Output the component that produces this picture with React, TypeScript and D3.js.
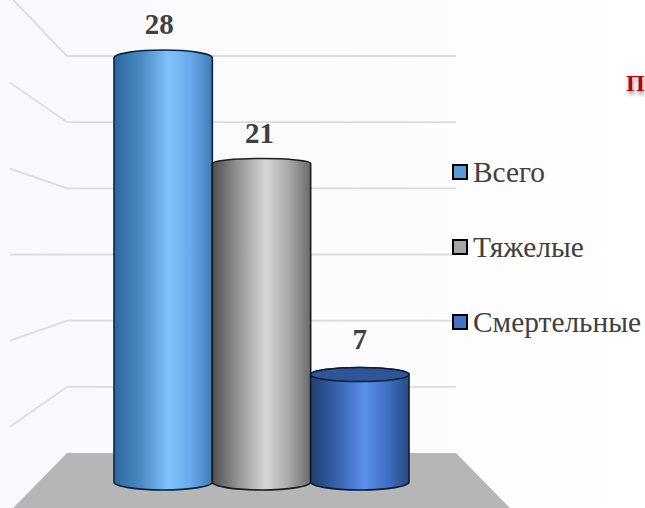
import React, { useEffect, useRef } from 'react';
import * as d3 from 'd3';

const categories = ['Всего', 'Тяжелые', 'Смертельные'];
const values = [28, 21, 7];
const gridTicks = [5, 10, 15, 20, 25, 30];
const titleText = 'П';

const WIDTH = 645;
const HEIGHT = 508;
const SERIF = '"Liberation Serif", "Times New Roman", serif';

// per series look, in the same order as categories
const swatchColors = ['#5b9bd5', '#a5a5a5', '#4472c4'];
const edgeColors = ['#0c2340', '#1c1c1c', '#0a1c38'];
const topColors = ['#4f8ec8', '#a0a0a0', '#2f5597'];
const gradients = [
  ['#2c679f', '#4b8ac4', '#7fc2fc', '#67aaea', '#3f7cb5'],
  ['#4f4f4f', '#999999', '#d6d6d6', '#a8a8a8', '#6a6a6a'],
  ['#1f3f6d', '#3765b0', '#5b8fec', '#3f70c4', '#264a80'],
];
const gradientStops = [0, 0.28, 0.55, 0.78, 1];
const labelShift = [-4, -2, 0];

const App: React.FC = () => {
  const svgRef = useRef<SVGSVGElement>(null);

  useEffect(() => {
    if (!svgRef.current) return;
    const svg = d3.select(svgRef.current);
    svg.selectAll('*').remove();

    const defs = svg.append('defs');

    const bg = defs.append('linearGradient').attr('id', 'bg');
    bg.append('stop').attr('offset', 0).attr('stop-color', '#f8f9fd');
    bg.append('stop').attr('offset', 0.6).attr('stop-color', '#fcfcfe');
    bg.append('stop').attr('offset', 1).attr('stop-color', '#ffffff');

    categories.forEach((_, i) => {
      const g = defs.append('linearGradient').attr('id', `bar-${i}`);
      gradients[i].forEach((c, j) => {
        g.append('stop').attr('offset', gradientStops[j]).attr('stop-color', c);
      });
    });

    defs.append('filter').attr('id', 'soft')
      .append('feDropShadow')
      .attr('dx', 1)
      .attr('dy', 3)
      .attr('stdDeviation', 2)
      .attr('flood-color', '#888');

    svg.append('rect').attr('width', WIDTH).attr('height', HEIGHT).attr('fill', 'url(#bg)');

    // back wall scale and the side wall that goes out to the left
    const wallY = d3.scaleLinear().domain([0, 30]).range([453, 56]);
    const wallLeft = 67;
    const wallRight = 456;
    const sideX = 10;
    const sideY = (y: number) => 254 + (y - 254) * 1.3;

    // floor
    const floorBack = wallY(0);
    const run = (HEIGHT - floorBack) * 0.98;
    const floorLine = d3.line();
    svg.append('path')
      .attr('d', floorLine([
        [wallLeft, floorBack],
        [wallRight, floorBack],
        [wallRight + run, HEIGHT],
        [wallLeft - run, HEIGHT],
      ])! + 'Z')
      .attr('fill', '#b6b6b6');

    // gridlines
    const gridLine = d3.line();
    svg.append('g').selectAll('path')
      .data(gridTicks)
      .join('path')
      .attr('d', (t) => gridLine([
        [sideX, sideY(wallY(t))],
        [wallLeft, wallY(t)],
        [wallRight, wallY(t)],
      ]))
      .attr('fill', 'none')
      .attr('stroke', '#dcdcdc')
      .attr('stroke-width', 1.8);

    // cylinders
    const x = d3.scaleBand().domain(categories).range([114, 409]).padding(0);
    const y = d3.scaleLinear().domain([0, 28]).range([480, 58]);
    const capRy = d3.scaleLinear().domain([0, 7, 21, 28]).range([8, 7, 5, 8]);
    const showsTop = (v: number) => y(v) > 254;

    const bars = svg.append('g').selectAll('g')
      .data(categories)
      .join('g');

    bars.append('path')
      .attr('d', (c, i) => {
        const x0 = x(c)!;
        const x1 = x0 + x.bandwidth();
        const rx = x.bandwidth() / 2;
        const top = y(values[i]);
        const ry = capRy(values[i]);
        const bottom = y(0) + 2;
        return `M${x0},${top}A${rx},${ry} 0 0 1 ${x1},${top}L${x1},${bottom}A${rx},${capRy(0)} 0 0 1 ${x0},${bottom}Z`;
      })
      .attr('fill', (_, i) => `url(#bar-${i})`)
      .attr('stroke', (_, i) => edgeColors[i])
      .attr('stroke-width', 1.6);

    // the short bar sits below eye level, so its top face shows
    bars.filter((_, i) => showsTop(values[i]))
      .append('ellipse')
      .attr('cx', (c) => x(c)! + x.bandwidth() / 2)
      .attr('cy', (c) => y(values[categories.indexOf(c)]))
      .attr('rx', x.bandwidth() / 2)
      .attr('ry', (c) => capRy(values[categories.indexOf(c)]))
      .attr('fill', (c) => topColors[categories.indexOf(c)])
      .attr('stroke', (c) => edgeColors[categories.indexOf(c)])
      .attr('stroke-width', 1.6);

    // value labels
    svg.append('g').selectAll('text')
      .data(categories)
      .join('text')
      .attr('x', (c, i) => x(c)! + x.bandwidth() / 2 + labelShift[i])
      .attr('y', (c, i) => y(values[i]) - capRy(values[i]) - (showsTop(values[i]) ? 19 : 16))
      .attr('text-anchor', 'middle')
      .attr('font-family', SERIF)
      .attr('font-weight', 'bold')
      .attr('font-size', 29)
      .attr('fill', '#404040')
      .text((_, i) => values[i]);

    // legend
    const legendY = d3.scalePoint().domain(categories).range([172, 322]);
    const legend = svg.append('g').selectAll('g')
      .data(categories)
      .join('g')
      .attr('transform', (c) => `translate(0,${legendY(c)})`);

    legend.append('rect')
      .attr('x', 453)
      .attr('y', -7)
      .attr('width', 14)
      .attr('height', 14)
      .attr('fill', (_, i) => swatchColors[i])
      .attr('stroke', '#000')
      .attr('stroke-width', 2);

    legend.append('text')
      .attr('x', 473)
      .attr('y', 10)
      .attr('font-family', SERIF)
      .attr('font-size', 29.4)
      .attr('fill', '#404040')
      .text((c) => c);

    // title fragment at the right edge
    svg.append('text')
      .attr('x', 626)
      .attr('y', 91)
      .attr('font-family', SERIF)
      .attr('font-weight', 'bold')
      .attr('font-size', 24)
      .attr('fill', '#c00000')
      .attr('filter', 'url(#soft)')
      .text(titleText);
  }, []);

  return (
    <svg
      ref={svgRef}
      width={WIDTH}
      height={HEIGHT}
      style={{ position: 'absolute', left: 0, top: 0, display: 'block' }}
    ></svg>
  );
};

export default App;
